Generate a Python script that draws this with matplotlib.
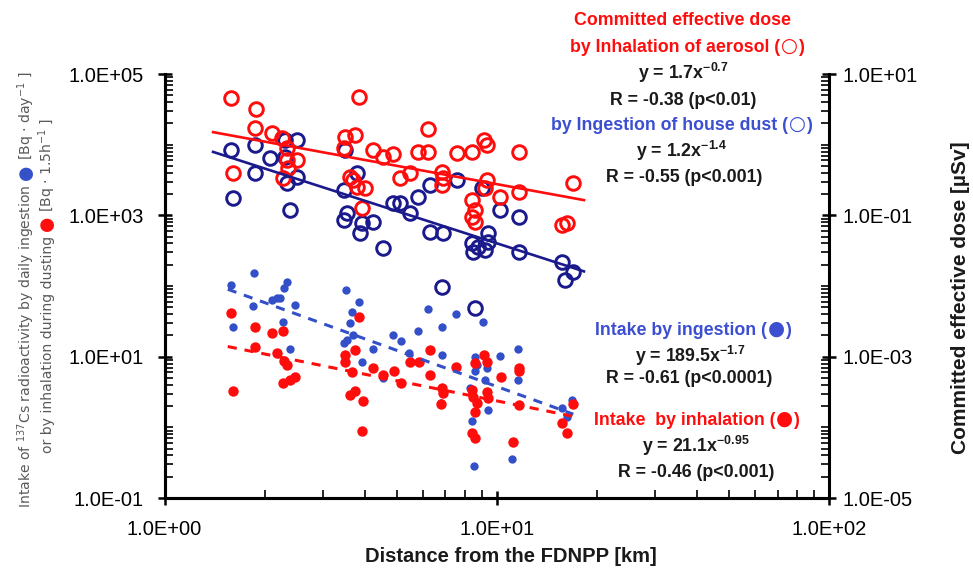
import numpy as np
import matplotlib
matplotlib.use("Agg")
import matplotlib.pyplot as plt
from matplotlib.ticker import FixedLocator, FuncFormatter, NullFormatter
from matplotlib.transforms import IdentityTransform

# ---------------- data ----------------
# Committed effective dose by inhalation of aerosol (red open circles) [uSv]
aerosol_km = [1.59, 1.89, 1.87, 2.10, 2.25, 2.34, 2.50, 2.34, 2.36, 2.27, 1.61,
              3.84, 3.50, 3.75, 3.46, 4.25, 4.55, 4.88, 3.62, 3.70, 3.80, 4.02,
              3.93, 6.23, 5.80, 6.23, 7.59, 8.42, 9.13, 9.36, 11.63, 5.11, 5.48,
              6.84, 6.90, 6.84, 9.36, 9.23, 10.25, 11.63, 8.42, 8.61, 8.61, 8.42,
              17.0, 15.7, 16.3]
aerosol_dose = [4.53, 3.17, 1.71, 1.45, 1.23, 0.89, 0.61, 0.61, 0.46, 0.335, 0.394,
                4.77, 1.30, 1.37, 0.89, 0.84, 0.676, 0.73, 0.352, 0.317, 0.255, 0.242,
                0.126, 1.65, 0.80, 0.80, 0.77, 0.80, 1.16, 0.99, 0.80, 0.335, 0.394,
                0.415, 0.335, 0.269, 0.317, 0.242, 0.184, 0.216, 0.165, 0.119, 0.0815, 0.096,
                0.285, 0.0731, 0.0773]

# Committed effective dose by ingestion of house dust (navy open circles) [uSv]
dust_km = [1.59, 1.61, 1.87, 1.87, 2.08, 2.50, 2.31, 2.31, 2.34, 2.50, 2.39,
           3.50, 3.80, 3.46, 3.55, 3.46, 3.93, 4.25, 3.88, 4.55, 4.88, 5.11,
           5.48, 5.80, 6.31, 7.59, 9.03, 10.25, 11.63, 6.31, 6.90, 8.42, 8.80,
           9.44, 8.50, 9.23, 9.44, 11.63, 15.7, 17.0, 16.1, 6.84, 8.61]
dust_dose = [0.84, 0.175, 0.99, 0.394, 0.647, 1.16, 1.16, 0.676, 0.285, 0.352, 0.119,
             0.84, 0.394, 0.229, 0.107, 0.086, 0.0773, 0.0815, 0.0558, 0.0343, 0.148, 0.148,
             0.107, 0.184, 0.269, 0.317, 0.242, 0.119, 0.096, 0.0588, 0.0558, 0.0403, 0.0361,
             0.0425, 0.0307, 0.0324, 0.0558, 0.0307, 0.0221, 0.016, 0.0122, 0.0098, 0.00485]

# Intake by ingestion (blue dots) [Bq/day]
ingest_km = [1.58, 1.86, 1.85, 1.61, 2.33, 2.29, 2.10, 2.18, 2.23, 2.47, 2.28, 2.39,
             3.51, 3.84, 3.66, 3.62, 3.70, 3.54, 3.46, 3.93, 4.24, 4.54, 6.23, 7.55,
             6.84, 5.81, 9.09, 4.87, 5.14, 5.45, 6.84, 8.61, 8.71, 8.61, 9.34, 9.23,
             10.2, 11.6, 11.6, 8.32, 9.44, 8.42, 16.9, 15.7, 16.3, 8.57, 11.1, 6.80]
ingest_bq = [104, 152, 52.8, 26.7, 115, 93, 63.6, 67, 68.5, 54, 31.4, 12.9,
             88, 59, 43.4, 29.8, 20.3, 17.3, 15.5, 8.5, 12.9, 5.0, 47.4, 40.3,
             26.1, 23.4, 30.7, 20.3, 16.4, 11.2, 10.6, 10.0, 7.7, 6.2, 6.9, 4.7,
             10.3, 12.8, 4.7, 3.6, 1.77, 1.21, 2.45, 1.87, 1.42, 0.285, 0.355, 2.2]

# Intake by inhalation (red dots) [Bq/1.5h]
inhal_km = [1.59, 1.61, 1.87, 1.87, 2.10, 2.27, 2.18, 2.29, 2.33, 2.28, 2.38, 2.47,
            3.84, 3.75, 3.50, 3.50, 3.66, 3.62, 3.75, 3.97, 3.93, 4.25, 4.56, 4.91,
            5.14, 6.28, 5.49, 5.85, 7.55, 6.31, 9.13, 9.34, 8.61, 10.3, 11.7, 11.7,
            6.84, 6.89, 6.80, 8.42, 8.51, 8.71, 8.61, 9.34, 9.44, 8.42, 8.61, 11.2,
            11.7, 17.0, 15.7, 16.3]
inhal_bq = [41.2, 3.3, 26.7, 13.9, 21.5, 23.4, 11.2, 8.7, 7.7, 4.2, 4.7, 5.1,
            36.9, 12.5, 10.6, 8.5, 6.0, 2.9, 3.3, 2.37, 0.89, 6.9, 5.5, 6.2,
            4.3, 12.5, 8.5, 8.5, 7.1, 5.5, 10.6, 8.5, 8.1, 5.1, 6.9, 6.2,
            3.6, 3.05, 2.15, 3.4, 2.7, 2.2, 1.67, 3.2, 2.6, 0.83, 0.70, 0.63,
            2.08, 2.13, 1.17, 0.83]

# power-law fits shown in the figure (coef, exponent)
fit_ingest = (189.5, -1.7)
fit_inhal = (21.1, -0.95)
solid_span = (1.4, 18.3)     # extent of the dose trend lines [km]
dashed_span = (1.55, 17.0)   # extent of the intake trend lines [km]

x_major = [1, 10, 100]
left_major = [1e-1, 1e1, 1e3, 1e5]
right_major = [1e-5, 1e-3, 1e-1, 1e1]

# ---------------- style ----------------
RED = "#ff0d0d"
NAVY = "#1a1a8c"
BLUE = "#3350c8"
TBLUE = "#3b4fd0"
GRAY = "#5a5a5a"
TXT = "#1a1a1a"

plt.rcParams["font.family"] = ["Liberation Sans", "DejaVu Sans"]
plt.rcParams["mathtext.default"] = "regular"
ANN = ["Liberation Sans", "DejaVu Sans"]
SYM = "DejaVu Sans"

W, H = 973, 568
fig = plt.figure(figsize=(W / 100, H / 100), dpi=100)
L, R_, T, B = 164.5, 829, 74, 498
ax = fig.add_axes([L / W, 1 - B / H, (R_ - L) / W, (B - T) / H])
ax2 = ax.twinx()

for a in (ax, ax2):
    a.set_xscale("log")
    a.set_yscale("log")
ax.set_xlim(1, 100)
ax.set_ylim(0.1, 1e5)
ax2.set_ylim(1e-5, 10)


def powfit(x, y):
    b, a = np.polyfit(np.log10(x), np.log10(y), 1)
    return 10 ** a, b


# intake dots + dashed fits (left axis)
ax.plot(ingest_km, ingest_bq, "o", ms=6.0, color=BLUE, mec="none", zorder=3)
ax.plot(inhal_km, inhal_bq, "o", ms=7.5, color=RED, mec="none", zorder=4)
xd = np.geomspace(*dashed_span, 60)
ax.plot(xd, fit_ingest[0] * xd ** fit_ingest[1], ls=(0, (3, 2.6)), lw=2.2, color=BLUE, zorder=5)
ax.plot(xd, fit_inhal[0] * xd ** fit_inhal[1], ls=(0, (3, 2.6)), lw=2.2, color=RED, zorder=5)

# dose circles + solid fits (right axis)
ax2.plot(dust_km, dust_dose, "o", ms=9.8, mfc="none", mec=NAVY, mew=2.1, zorder=3)
ax2.plot(aerosol_km, aerosol_dose, "o", ms=9.8, mfc="none", mec=RED, mew=2.1, zorder=4)
xs = np.geomspace(*solid_span, 60)
a1, b1 = powfit(dust_km, dust_dose)
a2, b2 = powfit(aerosol_km, aerosol_dose)
ax2.plot(xs, a1 * xs ** b1, "-", lw=1.9, color=NAVY, zorder=5)
ax2.plot(xs, a2 * xs ** b2, "-", lw=1.9, color=RED, zorder=5)

# spines / ticks
for a in (ax, ax2):
    a.spines["top"].set_visible(False)
    for s in ("left", "right", "bottom"):
        a.spines[s].set_linewidth(2.2)
ax.spines["right"].set_visible(False)


def near(v, lst):
    return any(abs(v / t - 1) < 1e-9 for t in lst)


fmt = FuncFormatter(lambda v, p: f"{v:.1E}")
minor_x = [m * 10 ** k for k in range(0, 2) for m in range(2, 10)]
minor_l = [m * 10.0 ** k for k in range(-1, 5) for m in range(1, 10) if not near(m * 10.0 ** k, left_major)]
minor_r = [m * 10.0 ** k for k in range(-5, 1) for m in range(1, 10) if not near(m * 10.0 ** k, right_major)]

ax.xaxis.set_major_locator(FixedLocator(x_major))
ax.xaxis.set_minor_locator(FixedLocator(minor_x))
ax.xaxis.set_major_formatter(fmt)
ax.xaxis.set_minor_formatter(NullFormatter())
ax.yaxis.set_major_locator(FixedLocator(left_major))
ax.yaxis.set_minor_locator(FixedLocator(minor_l))
ax.yaxis.set_major_formatter(fmt)
ax.yaxis.set_minor_formatter(NullFormatter())
ax2.yaxis.set_major_locator(FixedLocator(right_major))
ax2.yaxis.set_minor_locator(FixedLocator(minor_r))
ax2.yaxis.set_major_formatter(fmt)
ax2.yaxis.set_minor_formatter(NullFormatter())

for a in (ax, ax2):
    a.tick_params(which="major", direction="inout", length=10, width=1.8, labelsize=14.5, colors="black")
    a.tick_params(which="minor", direction="in", length=6, width=1.2)
ax.tick_params(axis="y", which="major", pad=10)
ax.tick_params(axis="x", which="major", pad=11)
ax2.tick_params(axis="y", which="major", pad=5)
ax.tick_params(axis="y", right=False, which="both")

# axis labels
fig.text(511 / W, 1 - 557 / H, "Distance from the FDNPP [km]", ha="center", va="center",
         fontsize=14.5, fontweight="bold", color=TXT)
fig.text(961 / W, 1 - 298 / H, "Committed effective dose [\u00b5Sv]", rotation=90, ha="center",
         va="center", fontsize=15, fontweight="bold", color=TXT)

renderer = fig.canvas.get_renderer()


def space_width(size, family, weight="normal"):
    p1 = fig.text(0, 0, "a a", fontsize=size, family=family, fontweight=weight)
    p2 = fig.text(0, 0, "aa", fontsize=size, family=family, fontweight=weight)
    g = p1.get_window_extent(renderer).width - p2.get_window_extent(renderer).width
    p1.remove()
    p2.remove()
    return g


# left (two-line, coloured bullets) label
def rotated_line(x_base, y_bottom, segs, size):
    y = H - y_bottom
    gap = space_width(size, "DejaVu Sans")
    for s, c, k in segs:
        t = fig.text(x_base, y, s, color=c, rotation=90, rotation_mode="anchor", ha="left",
                     va="baseline", fontsize=size * k, family="DejaVu Sans",
                     transform=IdentityTransform())
        y += t.get_window_extent(renderer).height + gap


rotated_line(31, 508, [("Intake of $^{137}$Cs radioactivity by daily ingestion", GRAY, 1.0),
                       ("\u25cf", BLUE, 1.25), ("[Bq \u00b7 day$^{-1}$ ]", GRAY, 1.0)], 10.1)
rotated_line(52, 453, [("or by inhalation during dusting", GRAY, 1.0),
                       ("\u25cf", RED, 1.25), ("[Bq \u00b7 1.5h$^{-1}$ ]", GRAY, 1.0)], 10.1)


# annotations: centred lines made of segments (symbols drawn larger)
def centred_line(xc, yc, segs, color, size=12.8):
    base = H - (yc + 5)
    items = []
    total = 0.0
    for s, fam, k, gap in segs:
        t = fig.text(0, base, s, ha="left", va="baseline", fontsize=size * k, family=fam,
                     fontweight="bold", color=color, transform=IdentityTransform())
        w = t.get_window_extent(renderer).width
        items.append((t, w, gap))
        total += w + gap
    x = xc - total / 2
    for t, w, gap in items:
        t.set_x(x)
        x += w + gap


ann = [
    (682, 20, [("Committed effective dose", ANN, 1, 0)], RED),
    (687, 47, [("by Inhalation of aerosol (", ANN, 1, 1), ("\u25cb", SYM, 1.1, 1), (")", ANN, 1, 0)], RED),
    (683, 74, [("y = 1.7x$^{-0.7}$", ANN, 1, 0)], TXT),
    (683, 100, [("R = -0.38 (p<0.01)", ANN, 1, 0)], TXT),
    (682, 125, [("by Ingestion of house dust (", ANN, 1, 1), ("\u25cb", SYM, 1.1, 1), (")", ANN, 1, 0)], TBLUE),
    (682, 152, [("y = 1.2x$^{-1.4}$", ANN, 1, 0)], TXT),
    (684, 177, [("R = -0.55 (p<0.001)", ANN, 1, 0)], TXT),
    (693, 330, [("Intake by ingestion (", ANN, 1, 1), ("\u25cf", SYM, 1.1, 1), (")", ANN, 1, 0)], TBLUE),
    (690, 357, [("y = 189.5x$^{-1.7}$", ANN, 1, 0)], TXT),
    (689, 378, [("R = -0.61 (p<0.0001)", ANN, 1, 0)], TXT),
    (697, 420, [("Intake  by inhalation (", ANN, 1, 1), ("\u25cf", SYM, 1.1, 1), (")", ANN, 1, 0)], RED),
    (696, 447, [("y = 21.1x$^{-0.95}$", ANN, 1, 0)], TXT),
    (696, 472, [("R = -0.46 (p<0.001)", ANN, 1, 0)], TXT),
]
for x, y, segs, c in ann:
    centred_line(x, y, segs, c)

fig.savefig("out.png", dpi=100)
